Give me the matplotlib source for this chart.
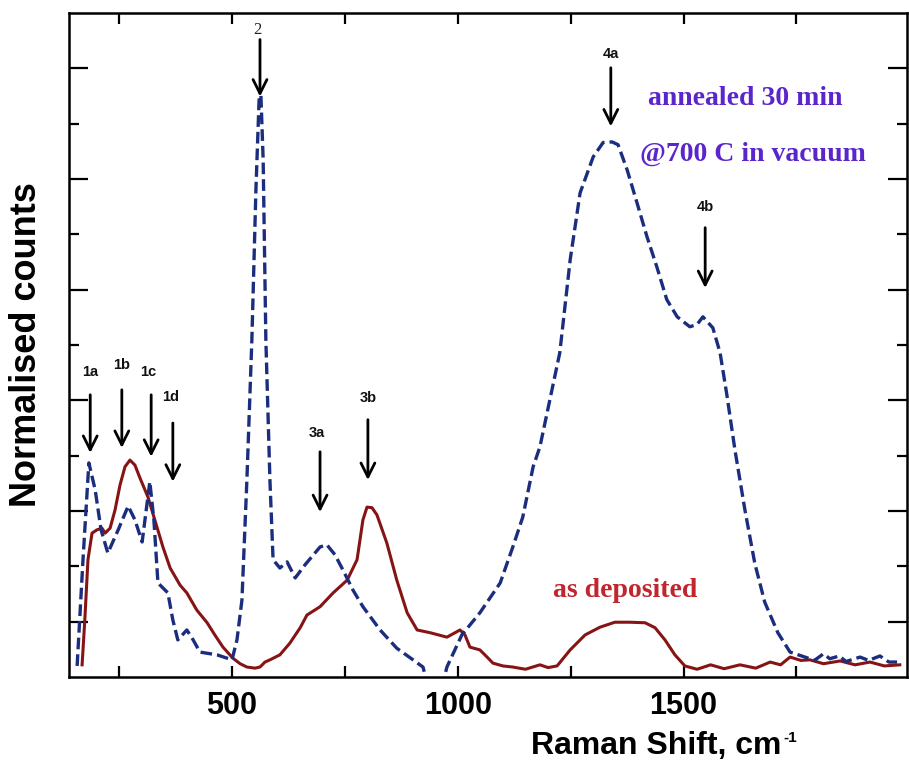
import matplotlib
matplotlib.use("Agg")
import matplotlib.pyplot as plt

# ---- data (Raman shift in cm^-1, normalised counts in arbitrary units) ----
annealed_shift = [157, 170, 183, 197, 210, 225, 248, 270, 285, 301, 318, 327, 336, 347, 358,
                  369, 380, 400, 414, 429, 467, 500, 511, 522, 533, 544, 553, 560, 564, 569,
                  575, 584, 591, 606, 622, 640, 662, 695, 710, 728, 746, 768, 790, 828, 865,
                  901, 923, 939, 961, 976, 1009, 1049, 1094, 1122, 1144, 1167, 1182, 1204,
                  1226, 1249, 1271, 1300, 1322, 1342, 1355, 1375, 1397, 1419, 1441, 1463,
                  1486, 1514, 1530, 1543, 1565, 1581, 1596, 1614, 1636, 1658, 1680, 1709,
                  1736, 1769, 1790, 1810, 1824, 1845, 1860, 1891, 1910, 1935, 1955, 1973]
annealed_counts = [0.2, 2.12, 3.87, 3.38, 2.66, 2.24, 2.66, 3.09, 2.84, 2.44, 3.53, 2.84, 1.70,
                   1.61, 1.52, 1.03, 0.67, 0.85, 0.67, 0.45, 0.40, 0.31, 0.67, 1.39, 3.56, 6.09,
                   8.81, 10.43, 10.52, 9.35, 6.09, 3.56, 2.12, 1.97, 2.08, 1.79, 2.03, 2.35,
                   2.39, 2.21, 1.93, 1.57, 1.27, 0.85, 0.52, 0.31, 0.18, -0.3, -0.3, 0.18,
                   0.76, 1.16, 1.70, 2.35, 2.89, 3.80, 4.16, 5.01, 5.86, 7.54, 8.75, 9.40,
                   9.66, 9.67, 9.62, 9.17, 8.57, 7.96, 7.41, 6.82, 6.51, 6.33, 6.37, 6.51,
                   6.31, 5.86, 5.10, 4.10, 3.02, 2.05, 1.35, 0.80, 0.45, 0.36, 0.30, 0.42,
                   0.33, 0.38, 0.28, 0.36, 0.30, 0.38, 0.27, 0.27]

deposited_shift = [168, 174, 181, 190, 201, 212, 219, 230, 241, 252, 263, 274, 285, 296, 314,
                   329, 347, 363, 385, 400, 422, 445, 462, 480, 502, 518, 533, 551, 562, 573,
                   584, 606, 628, 651, 666, 695, 724, 755, 777, 790, 799, 810, 821, 843, 865,
                   888, 910, 939, 976, 1005, 1016, 1027, 1049, 1065, 1078, 1100, 1122, 1150,
                   1182, 1200, 1220, 1249, 1282, 1315, 1348, 1381, 1415, 1437, 1459, 1481,
                   1503, 1530, 1560, 1590, 1625, 1660, 1692, 1715, 1736, 1760, 1780, 1810,
                   1847, 1880, 1913, 1945, 1979]
deposited_counts = [0.22, 1.03, 2.12, 2.60, 2.66, 2.69, 2.60, 2.69, 3.02, 3.47, 3.80, 3.92,
                    3.83, 3.60, 3.25, 2.84, 2.35, 1.97, 1.66, 1.52, 1.21, 0.98, 0.76, 0.54,
                    0.34, 0.24, 0.18, 0.16, 0.18, 0.27, 0.31, 0.40, 0.61, 0.89, 1.12, 1.27,
                    1.52, 1.75, 2.12, 2.84, 3.07, 3.06, 2.93, 2.42, 1.75, 1.16, 0.85, 0.80,
                    0.72, 0.85, 0.76, 0.54, 0.49, 0.36, 0.25, 0.20, 0.18, 0.14, 0.22, 0.17,
                    0.20, 0.49, 0.76, 0.90, 0.99, 0.99, 0.98, 0.89, 0.67, 0.40, 0.20, 0.14,
                    0.22, 0.15, 0.22, 0.16, 0.27, 0.22, 0.36, 0.30, 0.31, 0.24, 0.29, 0.22,
                    0.27, 0.20, 0.22]

peak_labels = ["1a", "1b", "1c", "1d", "2", "3a", "3b", "4a", "4b"]
peak_shift = [186, 256, 321, 369, 562, 695, 801, 1339, 1548]

# annotation geometry (positions, not data)
arrow_tail = [5.10, 5.19, 5.10, 4.59, 11.52, 4.07, 4.65, 11.01, 8.12]
arrow_head = [4.05, 4.14, 3.98, 3.53, 10.49, 2.98, 3.56, 9.95, 7.03]
label_y = [5.52, 5.64, 5.52, 5.06, 11.70, 4.41, 5.05, 11.25, 8.50]
label_dx = [0, 0, -7, -4, -5, -7, 0, 0, 0]

fig = plt.figure(figsize=(9.09, 7.64), dpi=100)
ax = fig.add_axes([69 / 909, 1 - 677 / 764, (907 - 69) / 909, (677 - 13) / 764])

ax.plot(deposited_shift, deposited_counts, color="#861414", lw=2.2, zorder=3)
ax.plot(annealed_shift, annealed_counts, color="#1b2d7e", lw=2.4,
        ls=(0, (3.5, 1.5)), zorder=4)

ax.set_xlim(139, 1995)
ax.set_ylim(0, 12)

for lab, x, t, h, ly, dx in zip(peak_labels, peak_shift, arrow_tail, arrow_head,
                                label_y, label_dx):
    ax.annotate("", xy=(x, h), xytext=(x, t),
                arrowprops=dict(arrowstyle="->,head_length=0.5,head_width=0.25",
                                lw=2.0, color="black", mutation_scale=20,
                                shrinkA=0, shrinkB=0))
    if lab == "2":
        ax.text(x + dx, ly, lab, ha="center", va="center", fontsize=12,
                family="Liberation Serif", color="#222222")
    else:
        ax.text(x + dx, ly, lab, ha="center", va="center", fontsize=10.5,
                fontweight="bold", family="Liberation Sans", color="#111111")

ax.text(1421, 10.45, "annealed 30 min", fontsize=20, fontweight="bold",
        family="Liberation Serif", color="#5a26cc", va="center", ha="left")
ax.text(1404, 9.45, "@700 C in vacuum", fontsize=20, fontweight="bold",
        family="Liberation Serif", color="#5a26cc", va="center", ha="left")
ax.text(1211, 1.57, "as deposited", fontsize=20, fontweight="bold",
        family="Liberation Serif", color="#c0262d", va="center", ha="left")

ax.set_xticks([500, 1000, 1500])
ax.set_xticks([250, 750, 1250, 1750], minor=True)
ax.set_yticks([1, 3, 5, 7, 9, 11])
ax.set_yticks([2, 4, 6, 8, 10], minor=True)
ax.set_yticklabels([])
ax.tick_params(axis="x", which="both", direction="in", top=True, length=8, width=1.6,
               labelsize=22, pad=10)
ax.tick_params(axis="y", which="major", direction="in", right=True, length=14, width=1.6)
ax.tick_params(axis="y", which="minor", direction="in", right=True, length=7, width=1.6)
for lbl in ax.get_xticklabels():
    lbl.set_fontweight("bold")
    lbl.set_family("Liberation Sans")
for sp in ax.spines.values():
    sp.set_linewidth(1.8)

# axis titles
fig.text(656 / 909, 1 - 754 / 764, "Raman Shift, cm", fontsize=23, fontweight="bold",
         family="Liberation Sans", ha="center", va="baseline")
fig.text(783 / 909, 1 - 731 / 764, "-1", fontsize=11, fontweight="bold",
         family="Liberation Sans", ha="left", va="top")
fig.text(27 / 909, 1 - 345 / 764, "Normalised counts", fontsize=26, fontweight="bold",
         family="Liberation Sans", ha="center", va="center", rotation=90)

fig.savefig("out.png", dpi=100)
